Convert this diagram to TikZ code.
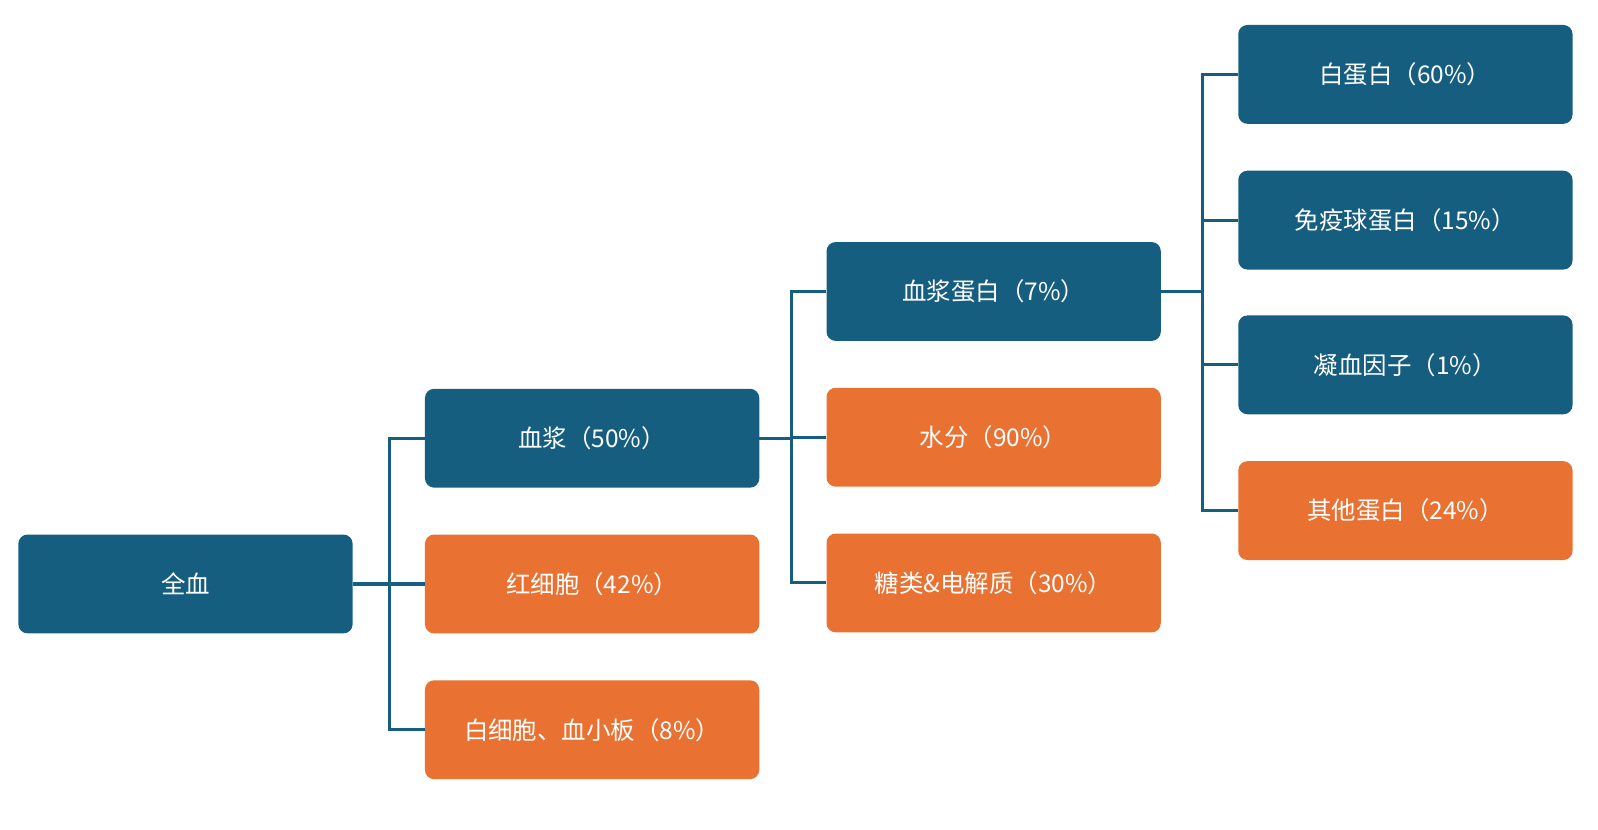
\documentclass[tikz,border=0pt]{standalone}
\usepackage{fontspec}
\setmainfont{Noto Sans CJK SC}
\definecolor{darkblue}{HTML}{165E80}
\definecolor{orangefill}{HTML}{E97132}
\tikzset{
  box/.style={rounded corners=9pt, minimum width=328pt, minimum height=97pt,
    inner sep=0pt, text=white, font=\fontsize{24}{28}\selectfont},
  bluebox/.style={box, fill=darkblue},
  orangebox/.style={box, fill=orangefill},
  link/.style={draw=darkblue, line width=3pt}
}
\begin{document}
\begin{tikzpicture}[x=1pt,y=-1pt]
% level one
\node[bluebox] (quanxue) at (182,573) {全血};
% level two
\node[bluebox] (xuejiang) at (581,430) {血浆（50\%）};
\node[orangebox] (hongxibao) at (581,573) {红细胞（42\%）};
\node[orangebox] (baixibao) at (581,716) {白细胞、血小板（8\%）};
% level three
\node[bluebox] (danbai) at (975,286) {血浆蛋白（7\%）};
\node[orangebox] (shuifen) at (975,429) {水分（90\%）};
\node[orangebox] (tanglei) at (975,572) {糖类\&电解质（30\%）};
% level four
\node[bluebox] (baidanbai) at (1379,73) {白蛋白（60\%）};
\node[bluebox] (mianyi) at (1379,216) {免疫球蛋白（15\%）};
\node[bluebox] (ningxue) at (1379,358) {凝血因子（1\%）};
\node[orangebox] (qita) at (1379,501) {其他蛋白（24\%）};
% connectors
\foreach \c in {xuejiang,hongxibao,baixibao}
  \draw[link] (quanxue.east) -- ++(36,0) |- (\c.west);
\foreach \c in {danbai,shuifen,tanglei}
  \draw[link] (xuejiang.east) -- ++(31,0) |- (\c.west);
\foreach \c in {baidanbai,mianyi,ningxue,qita}
  \draw[link] (danbai.east) -- ++(41,0) |- (\c.west);
\pgfresetboundingbox
\useasboundingbox (0,0) rectangle (1568,814);
\end{tikzpicture}
\end{document}
